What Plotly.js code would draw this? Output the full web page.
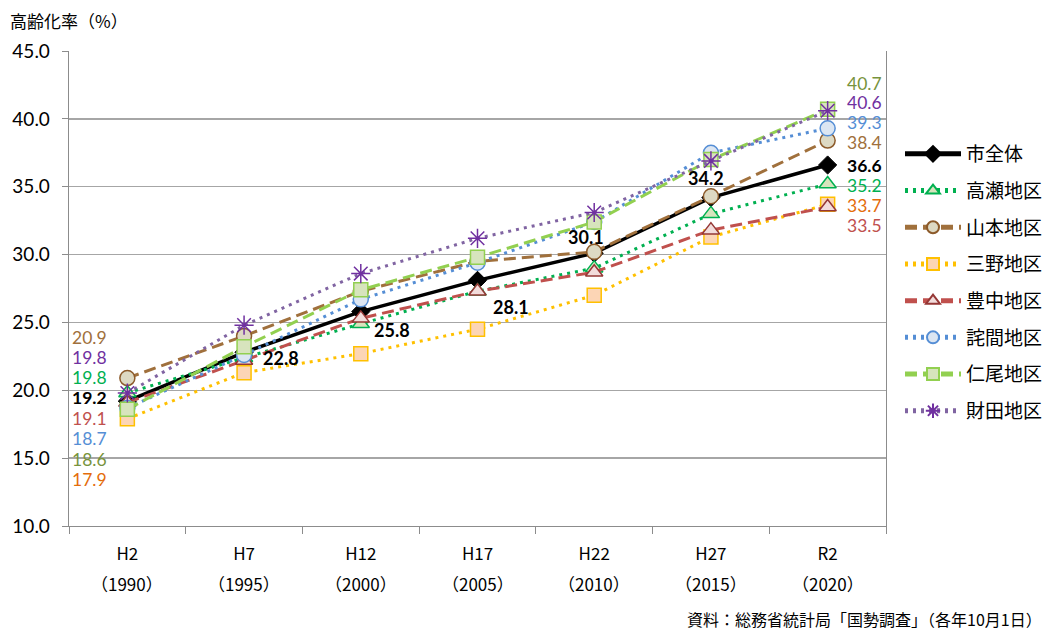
<!DOCTYPE html>
<html><head><meta charset="utf-8">
<script src="https://cdn.plot.ly/plotly-3.0.1.min.js"></script>
<style>html,body{margin:0;padding:0;background:#fff}#chart{width:1052px;height:630px}</style>
</head><body><div id="chart"></div>
<script>
const categories = ['H2','H7','H12','H17','H22','H27','R2'];
const years = ['1990','1995','2000','2005','2010','2015','2020'];
const seriesNames = ['市全体','高瀬地区','山本地区','三野地区','豊中地区','詫間地区','仁尾地区','財田地区'];
const city     = [19.2,22.8,25.8,28.1,30.1,34.2,36.6];
const takase   = [19.8,22.4,24.9,27.3,29.0,33.0,35.2];
const yamamoto = [20.9,24.0,27.3,29.5,30.2,34.3,38.4];
const mino     = [17.9,21.3,22.7,24.5,27.0,31.3,33.7];
const toyonaka = [19.1,22.2,25.3,27.3,28.7,31.8,33.5];
const takuma   = [18.7,22.6,26.7,29.4,32.4,37.5,39.3];
const nio      = [18.6,23.2,27.4,29.8,32.4,37.0,40.7];
const saita    = [19.8,24.8,28.6,31.2,33.1,36.9,40.6];
const yTitle = '高齢化率（%）';
const sourceNote = '資料：総務省統計局「国勢調査」（各年10月1日）';

const values = [city,takase,yamamoto,mino,toyonaka,takuma,nio,saita];

// styles
const styles = [
  {line:{color:'#000000',width:3.5,dash:'solid'}, marker:{symbol:'diamond',size:14,color:'#000000',line:{color:'#000000',width:1}}, label:'#000000'},
  {line:{color:'#00B050',width:3,dash:'3px,5px'}, marker:{symbol:'triangle-up',size:15,color:'#D7E4BD',line:{color:'#00B050',width:1.5}}, label:'#00B050'},
  {line:{color:'#A0703C',width:3,dash:'12px,6px'}, marker:{symbol:'circle',size:15,color:'#DDD9C3',line:{color:'#8C5A2A',width:1.5}}, label:'#A0703C'},
  {line:{color:'#FFC000',width:3,dash:'3px,5px'}, marker:{symbol:'square',size:14,color:'#FCD5B5',line:{color:'#FFC000',width:1.5}}, label:'#E46C0A'},
  {line:{color:'#C0504D',width:3,dash:'12px,6px'}, marker:{symbol:'triangle-up',size:15,color:'#F2DCDB',line:{color:'#953735',width:1.5}}, label:'#C0504D'},
  {line:{color:'#558ED5',width:3,dash:'3px,5px'}, marker:{symbol:'circle',size:15,color:'#DCE6F2',line:{color:'#558ED5',width:1.5}}, label:'#558ED5'},
  {line:{color:'#92D050',width:3,dash:'12px,6px'}, marker:{symbol:'square',size:14,color:'#D7E4BD',line:{color:'#92D050',width:1.5}}, label:'#77933C'},
  {line:{color:'#8064A2',width:3,dash:'3px,5px'}, marker:{symbol:'asterisk-open',size:16,color:'#7030A0',line:{color:'#7030A0',width:1.5}}, label:'#7030A0'}
];

const traces = values.map((v,i)=>({
  type:'scatter', mode:'lines+markers', name:seriesNames[i],
  x:categories, y:v, line:styles[i].line, marker:styles[i].marker,
  legendgroup:'g'+i, hoverinfo:'skip'
}));

// plot geometry (px)
const PL=69, PR=886, PT=51, PB=526;
const pyPaper = px => (PB-px)/(PB-PT);
const pxPaper = px => (px-PL)/(PR-PL);
const numFont = 'Lato, "Noto Sans", sans-serif';
const jpFont = '"Noto Sans CJK JP", "Noto Sans", sans-serif';

const annotations = [];
// left stacked labels (first category)
const leftOrder = [2,7,1,0,4,5,6,3];
const leftPix = [337,357,377,397,418,438,459,479];
leftOrder.forEach((si,k)=>{
  annotations.push({x:categories[0], xref:'x', y:pyPaper(leftPix[k]), yref:'paper',
    text:values[si][0].toFixed(1), showarrow:false, xanchor:'right', yanchor:'middle', xshift:-18,
    font:{family:numFont,size:17.5,color:styles[si].label, weight: si===0?'bold':'normal'}});
});
// right stacked labels (last category)
const rightOrder = [6,7,5,2,0,1,3,4];
const rightPix = [83,103,122,142,165,185,205,225];
const last = categories.length-1;
rightOrder.forEach((si,k)=>{
  annotations.push({x:categories[last], xref:'x', y:pyPaper(rightPix[k]), yref:'paper',
    text:values[si][last].toFixed(1), showarrow:false, xanchor:'left', yanchor:'middle', xshift:17,
    font:{family:numFont,size:17.5,color:styles[si].label, weight: si===0?'bold':'normal'}});
});
// city labels middle points
const cityOffsets = [null,[17,-6,'left'],[11,-18,'left'],[13,-27,'left'],[-8,16,'center'],[-5,20,'center'],null];
cityOffsets.forEach((o,i)=>{
  if(!o) return;
  annotations.push({x:categories[i], xref:'x', y:city[i], yref:'y', text:city[i].toFixed(1), showarrow:false,
    xanchor:o[2], yanchor:'middle', xshift:o[0], yshift:o[1],
    font:{family:numFont,size:18,color:'#000000',weight:'bold'}});
});
// year line under category labels
years.forEach((yr,i)=>{
  annotations.push({x:categories[i], xref:'x', y:pyPaper(583), yref:'paper', text:'（'+yr+'）', showarrow:false,
    xanchor:'center', yanchor:'middle', font:{family:jpFont,size:17,color:'#000000'}});
});
// source note
annotations.push({x:pxPaper(1044), xref:'paper', y:pyPaper(619), yref:'paper', text:sourceNote, showarrow:false,
  xanchor:'right', yanchor:'middle', font:{family:jpFont,size:16,color:'#000000'}});

const layout = {
  width:1052, height:630, paper_bgcolor:'#ffffff', plot_bgcolor:'#ffffff',
  margin:{l:PL, r:1052-PR, t:PT, b:630-PB, pad:0},
  title:{text:yTitle, x:10/1052, xanchor:'left', xref:'container', y:1-22/630, yanchor:'middle', yref:'container',
    font:{family:jpFont,size:17,color:'#000000'}},
  xaxis:{type:'category', range:[-0.5,6.5], showgrid:false, showline:true, linecolor:'#8C8C8C', linewidth:1.3,
    ticks:'outside', tickson:'boundaries', ticklen:7, tickcolor:'#8C8C8C', tickwidth:1,
    tickfont:{family:jpFont,size:17,color:'#000000'}, ticklabelstandoff:12, zeroline:false, fixedrange:true},
  yaxis:{range:[10,45], dtick:5, tick0:10, tickformat:'.1f', showgrid:true, gridcolor:'#A6A6A6', gridwidth:1.3,
    showline:true, mirror:true, linecolor:'#8C8C8C', linewidth:1.3, ticks:'outside', ticklen:6, tickcolor:'#8C8C8C',
    tickfont:{family:numFont,size:19,color:'#000000'}, ticklabelstandoff:8, zeroline:false, fixedrange:true},
  legend:{xref:'container', x:900/1052, xanchor:'left', yref:'container', y:1-135/630, yanchor:'top',
    font:{family:jpFont,size:19,color:'#000000'},
    bgcolor:'rgba(0,0,0,0)', borderwidth:0, itemwidth:56, tracegroupgap:9, traceorder:'grouped', itemsizing:'constant'},
  annotations:annotations,
  showlegend:true
};
Plotly.newPlot('chart', traces, layout, {displayModeBar:false, staticPlot:true});
</script>
</body></html>
